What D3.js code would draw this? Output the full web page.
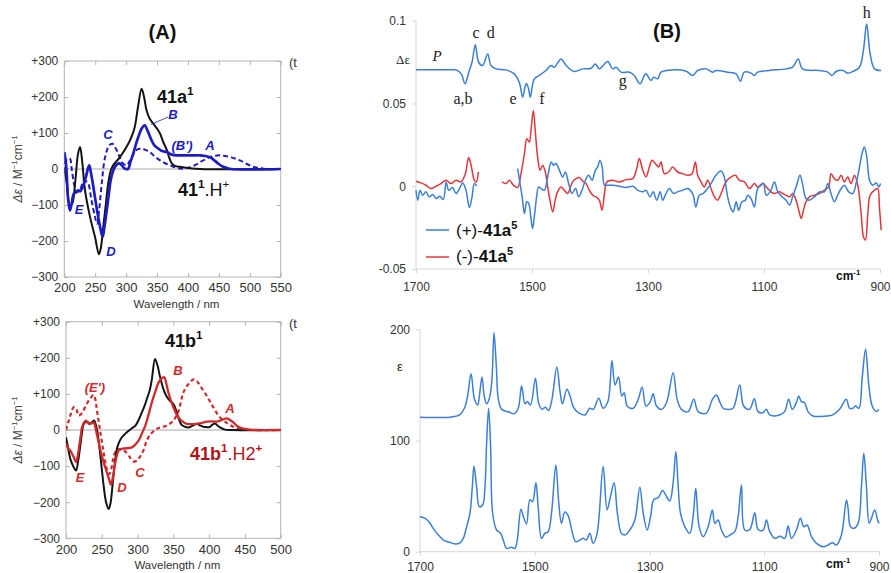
<!DOCTYPE html>
<html><head><meta charset="utf-8">
<script src="https://cdn.jsdelivr.net/npm/d3@7"></script>
<style>body{margin:0;background:#fff}svg{display:block}</style>
</head><body>
<script>
// ---------- DATA ----------
// Panel A (top): wavelength (nm), Δε
const aTopTicksX = [200,250,300,350,400,450,500,550];
const aBotTicksX = [200,250,300,350,400,450,500];
const aTicksY = [300,200,100,0,-100,-200,-300];
const aTickLabelsY = ["+300","+200","+100","0","\u2212100","\u2212200","\u2212300"];

const a1Black = [[200,5],[204,-40],[209,-101],[213,-95],[218,-30],[222,40],[225.5,61],[229,20],[233.5,-59],[241.6,-133],[249.7,-189],[256,-237],[259,-220],[263,-161],[267,-100],[271,-40],[275,-5],[279,10],[290,33],[303.5,70],[310,95],[314,117],[319,170],[325,223],[329,200],[333,163],[338,140],[344,126],[350,112],[355,98],[360,75],[366,52],[370,30],[374,15],[380,8],[387,6],[400,3],[420,0],[550,0]];
const a1Blue = [[200,47],[203,10],[206,-80],[209,-115],[212,-95],[215.5,-68],[219,-65],[222.6,-59],[226,-62],[229.7,-50],[235,-22],[238,0],[240.4,10],[243,-10],[247,-50],[253,-115],[259,-170],[262,-189],[265,-160],[268.6,-115],[272,-70],[275,-31],[279,-5],[282,6],[286,14],[290,15],[295.5,5],[299,0],[303.5,1],[307,20],[311.6,43],[316,70],[319.7,89],[325,112],[330,121],[335,105],[341,80],[346,65],[352,57],[358,50],[366,47],[374,40],[382,38],[398,38],[410,38],[419.5,38],[428,36],[435.6,33],[442,25],[449,15],[456,7],[462.6,3],[470,0],[550,0]];
const a1BlueDash = [[200,15],[205,28],[209,29],[212,0],[215.7,-41],[220,-64],[225,-59],[232,-31],[236,-35],[239,-41],[244,-87],[249.7,-133],[253,-152],[256,-120],[260.5,-41],[266,33],[272.8,66],[278,70],[284.7,52],[289,35],[293,19],[301,10],[305,20],[309,33],[316,52],[325,57],[331,53],[338.6,47],[346,35],[355,24],[363,16],[371,10],[380,4],[389,1],[398,3],[406,6],[413,12],[419.5,19],[427,26],[435.6,33],[444,37],[452,38],[460,36],[468,33],[476,29],[484,24],[492,17],[500,10],[508,5],[516,3],[525,0],[550,0]];

// Panel A (bottom)
const a2Black = [[200,-20],[203,-50],[206,-80],[210,-100],[214,-112],[217,-85],[220,-43],[222.5,-5],[224.7,17],[229,23],[233.8,17],[236.5,22],[239.5,26],[242,12],[244,-6],[248,-71],[252.6,-154],[256,-200],[259.6,-219],[262,-205],[265,-154],[268,-95],[271,-53],[274,-35],[278,-20],[283,-10],[287.6,-2],[292,5],[297,12],[302,30],[306,49],[310,68],[313,86],[317,110],[320,141],[324.4,197],[328,178],[331,151],[336,114],[340,95],[345.3,81],[350,72],[352.3,63],[356.9,35],[361.6,14],[366,9],[371,7],[377,12],[382.6,17],[387,13],[392,9],[396,8],[400.3,8],[404,14],[408.2,18],[412,12],[415.2,7],[422.2,1],[430,0],[500,0]];
const a2Red = [[200,-39],[203,-50],[206,-57],[210.7,-75],[214,-89],[216.5,-70],[218.6,-43],[221,-10],[223,12],[228,26],[232,17],[235,18],[238.7,21],[241,8],[243,-11],[250,-71],[257,-117],[260,-135],[263,-152],[266,-125],[269,-89],[273.6,-57],[278,-52],[283,-51],[292,-48],[297,-40],[301.5,-29],[306,-10],[310.8,12],[315,40],[320,77],[325,108],[329.5,132],[334,143],[337.4,146],[340,130],[343,104],[350,63],[355,42],[359.3,30],[364,22],[368.6,17],[375,16],[382.6,17],[390,20],[396.6,23],[405,24],[410.6,23],[418,28],[424.5,32],[429,28],[433.8,21],[438,13],[443,7],[450,3],[457,1],[465,0],[500,0]];
const a2RedDash = [[200,0],[203,20],[206,40],[210.7,63],[214,60],[217.7,40],[220,42],[223,49],[229,72],[234,88],[238.7,97],[241,85],[243,58],[248,-6],[252.6,-62],[257,-108],[260.5,-122],[263,-110],[265,-89],[268,-65],[271,-54],[278,-54],[283,-60],[287.6,-71],[294,-87],[299,-85],[304,-72],[308.5,-55],[312.7,-30],[318,-12],[326.7,3],[333,8],[340.7,12],[350,26],[357,52],[364,104],[369,122],[373.3,132],[378,140],[383,135],[387.2,123],[396.6,95],[405.8,63],[415.2,35],[424.5,20],[433.8,9],[443,3],[455,0],[500,0]];

// Panel B (top): wavenumber (cm-1), Δε
const bTicksX = [1700,1500,1300,1100,900];
const bTopTicksY = [0.1,0.05,0,-0.05];
const bTopTickLabelsY = ["0.1","0.05","0","-0.05"];
const bBotTicksY = [200,100,0];

const bCalc = [[1700,0.0703],[1640,0.0703],[1631,0.0703],[1622,0.0679],[1615.5,0.0619],[1609,0.0689],[1603.4,0.0749],[1597.7,0.0854],[1592,0.0749],[1585,0.0729],[1576.4,0.0799],[1570.7,0.0729],[1562,0.0709],[1545,0.0703],[1530.5,0.0679],[1522,0.0628],[1516,0.0538],[1512,0.0600],[1509.5,0.0620],[1506,0.0590],[1503,0.0538],[1496,0.0649],[1487.4,0.0669],[1476,0.0699],[1467.2,0.0729],[1461.5,0.0719],[1450,0.0769],[1441,0.0729],[1427,0.0693],[1412.6,0.0709],[1398,0.0713],[1390.8,0.0739],[1384,0.0709],[1369.5,0.0753],[1361,0.0709],[1355,0.0719],[1346.5,0.0689],[1332,0.0689],[1323.6,0.0669],[1313.8,0.0619],[1306.4,0.0669],[1303.4,0.0679],[1295,0.0639],[1290,0.0659],[1283.4,0.0649],[1277.6,0.0689],[1257.4,0.0703],[1234,0.0695],[1223,0.0669],[1214.4,0.0699],[1200,0.0709],[1188.5,0.0689],[1182.8,0.0699],[1162.7,0.0689],[1148,0.0679],[1140.8,0.0634],[1134,0.0689],[1122.3,0.0683],[1116.6,0.0669],[1111,0.0689],[1091,0.0699],[1062,0.0709],[1050.7,0.0719],[1041,0.0769],[1033.6,0.0709],[1004.6,0.0699],[990,0.0689],[982.8,0.0669],[975.7,0.0693],[964,0.0699],[955.7,0.0683],[947,0.0693],[935.4,0.0719],[928.7,0.0819],[923,0.0980],[917,0.0799],[909.5,0.0709],[898.3,0.0699]];

const bRed1 = [[1700,0.003],[1691.4,0.002],[1682.8,0.0006],[1674,-0.0014],[1665.5,0],[1657,0.0016],[1648,0.0036],[1639.7,0.0016],[1631,0.0036],[1622.4,0.0026],[1615,0.0076],[1609.2,0.0173],[1605,0.0127],[1599.4,0.0036],[1596,0.0026],[1592.5,0.0086]];
const bBlue1 = [[1700,-0.0024],[1697,-0.0084],[1693,-0.0024],[1688.5,-0.0054],[1683,-0.0034],[1677,-0.0064],[1671,-0.005],[1665.5,-0.0074],[1659,-0.006],[1653,-0.008],[1648,0.0026],[1643.7,-0.0024],[1637,-0.0008],[1631,-0.0044],[1625,-0.0014],[1619.5,0.002],[1613.8,-0.0024],[1608,-0.0129],[1603.4,-0.0064],[1599.4,0.0016],[1595.4,0]];
const bRed2 = [[1551.7,0.0026],[1544.8,0.0016],[1539,0.0036],[1532,0.0006],[1524.7,-0.0008],[1519,0.0076],[1513,0.0197],[1509,0.0287],[1504.6,0.0267],[1501.7,0.0337],[1497.7,0.0458],[1494,0.0317],[1490,0.0167],[1486,0.0096],[1481.6,0.0127],[1477,0.0086],[1473,-0.0004],[1469,-0.0084],[1464.3,-0.0155],[1460,-0.0084],[1456,-0.0034],[1450,-0.0004],[1444.3,-0.0024],[1438.5,-0.0044],[1434.5,-0.0014],[1430,0.0026],[1424,0.0046],[1418.4,0.0052],[1412.6,0.0032],[1407,0.0016],[1401,-0.0024],[1395.4,-0.0054],[1389.7,-0.0064],[1384,-0.0084],[1379.3,-0.0145],[1375,-0.0044],[1371,0.0026],[1361,0.0036],[1349.5,0.0026],[1338,0.004],[1326.4,0.0046],[1319.5,0.0106],[1315,0.0167],[1309,0.0096],[1303.4,0.0056],[1297.7,0.0116],[1293,0.0157],[1287.4,0.0137],[1281.6,0.0116],[1277.6,0.0147],[1271.8,0.0076],[1264.4,0.0086],[1257.5,0.0116],[1248.9,0.0086],[1240.2,0.0076],[1231.6,0.0066],[1224,0.0076],[1218.4,0.0147],[1214.4,0.0066],[1208.6,0.0026],[1203,-0.0004],[1197,0.0036],[1191.4,-0.0014],[1185.6,-0.0064],[1180,-0.0084],[1174,-0.0044],[1165.5,0.0026],[1156.8,0.0056],[1149.3,0.0066],[1142.4,0.0036],[1133.8,0.0026],[1125,-0.0014],[1116.6,0.0016],[1111,-0.0004],[1102,0.0016],[1093.6,-0.0014],[1087.8,-0.0034],[1082,-0.0044],[1073.4,-0.0034],[1067.7,-0.0044],[1062,-0.0054],[1056,-0.0064],[1050.6,-0.0044],[1044.8,-0.0084],[1040,-0.0145],[1036,-0.0195],[1032,-0.0145],[1027.6,-0.0094],[1021.8,-0.0064],[1013,-0.0054],[1004.6,-0.0044],[996,-0.0024],[988.5,-0.0004],[984.5,0.0076],[978.7,0.0046],[973,0.0036],[967,0.0066],[961.4,0.0026],[955.7,0.0056],[950,0.0016],[944,0.0066],[938.3,0.0006],[932.5,-0.0165],[928.5,-0.0305],[925,-0.0325],[921,-0.0165],[917,-0.0054],[909.5,-0.0024],[904,-0.0014],[901,-0.0125],[898,-0.0265]];
const bBlue2 = [[1524.7,0.0106],[1522,0.0046],[1517,-0.0064],[1513,-0.0165],[1509,-0.0094],[1505.7,-0.0104],[1501.7,-0.0195],[1499,-0.0255],[1495.4,-0.0165],[1492,-0.0064],[1488.5,-0.0004],[1484.5,-0.0014],[1478.7,-0.0024],[1473,0.0056],[1467,0.0147],[1463,0.0127],[1458.6,0.0137],[1452.8,0.0096],[1447,0.0056],[1442.5,0.0086],[1436.8,0.0016],[1431,-0.0044],[1425,-0.0014],[1419.5,-0.0064],[1413.8,-0.0024],[1408,0.0036],[1402.3,0.0066],[1396.5,0.0036],[1390.8,0.0096],[1386.8,0.0117],[1382.8,0.0157],[1379,0.0117],[1375,0.0006],[1369.5,0.0006],[1361,0.0006],[1349.5,0],[1338,-0.0008],[1326,0],[1318,-0.0024],[1309,-0.0034],[1303.4,-0.0024],[1296.5,-0.0064],[1291,-0.0034],[1285,-0.0084],[1279,-0.0034],[1274.7,-0.0084],[1269,-0.0044],[1263,-0.0014],[1256,-0.0044],[1249,-0.0034],[1240,-0.0024],[1231.6,-0.0014],[1223,-0.0044],[1217.5,-0.0125],[1211.6,-0.0054],[1205,-0.0044],[1197.4,-0.0014],[1191.4,0.0016],[1183,0.0066],[1174,0.0092],[1168.5,0.0056],[1162.7,-0.0064],[1157,-0.0135],[1153,-0.0155],[1148,-0.0094],[1143.7,-0.0145],[1138,-0.0094],[1132,-0.0084],[1128,-0.0054],[1122.3,-0.0074],[1116.6,-0.0125],[1111,-0.0014],[1105,0.0006],[1101,0.002],[1096.3,-0.0054],[1089.4,-0.0034],[1082,0.0026],[1076.3,-0.0034],[1068.8,-0.0064],[1062,-0.0084],[1056,-0.0114],[1050.6,-0.0064],[1043.7,0.0006],[1038,0.0066],[1033.6,0.0016],[1027.6,-0.0074],[1021.8,-0.0084],[1013,-0.0064],[1004.6,-0.0034],[996,-0.0034],[990,0.0016],[984.5,-0.0044],[978.7,-0.0094],[973,-0.0054],[967,-0.0014],[961.4,0.0006],[954,-0.0034],[947,-0.0044],[940,0.0036],[934.3,0.0137],[931,0.0197],[927,0.0237],[922.8,0.0177],[918,0.0036],[912.4,0.0006],[906.6,0.002],[902,-0.0004],[899,0.0016]];

// Panel B (bottom): ε
const bEpsCalc = [[1700,121],[1648,121],[1631,123],[1622.6,129],[1617,140],[1611,160],[1605,137],[1599.4,132],[1596.5,140],[1592,157],[1588,140],[1584,133],[1579.6,137],[1575,152],[1571,197],[1567,167],[1563.4,137],[1557.6,128],[1545,125.6],[1536,124],[1528.7,129],[1523,149],[1517,133],[1513,135],[1507.4,132],[1498.8,156],[1493,133],[1487,128],[1481.6,130],[1475.8,127],[1470,137],[1461.5,166],[1455.7,143],[1451.7,133],[1444,146],[1438.5,140],[1432.6,130],[1424,125],[1412.6,123],[1404,129],[1398,128],[1388.5,138],[1381,129],[1372.5,135],[1365.5,172],[1360,150],[1354,157],[1348.3,140],[1344,143],[1338.8,131],[1328.4,129],[1319.7,137],[1312.7,148],[1306.3,131],[1299.4,134],[1293.6,142],[1287.8,131],[1279,128],[1270.4,134],[1258.8,161],[1251.8,137],[1244.3,128],[1232.7,126],[1222.8,137],[1215.3,126],[1200.8,124.6],[1190.4,137],[1183.5,141],[1177.7,135],[1171.8,129],[1164.9,128],[1154.4,129],[1142.8,150],[1135.9,131],[1125.5,128],[1117.3,137.6],[1110.9,126],[1102.2,125],[1096.4,128],[1090.6,123],[1073.2,123],[1064.5,126],[1057.5,137],[1051.1,128],[1044.1,134],[1040,140],[1035.4,135],[1029.6,134],[1023.8,126],[1015.1,122],[991.9,122],[980.3,123],[968.7,128],[957.1,137],[951.3,129],[945.5,129],[940.8,131],[935,129],[929.2,157],[923.4,182],[917.6,149],[911.8,131],[904.8,126],[900.2,128]];
const bEpsExp = [[1700,31.5],[1691,30],[1683,26],[1677,21],[1668,15],[1659,10.5],[1652.4,9],[1646.6,8.2],[1639,7],[1630.3,8],[1624.5,12],[1618.7,22.5],[1612.9,34.6],[1608.8,58.6],[1605.9,77],[1601.3,58],[1596.6,40.5],[1590.8,42],[1586.8,58],[1583.9,97.6],[1580.4,129],[1576.9,94],[1573.4,34.6],[1566.5,19.5],[1559.5,16.5],[1554.9,10.5],[1549.1,3],[1540.4,4],[1534.6,3],[1530.5,10.5],[1524.2,38.2],[1520.1,32],[1514.3,25],[1508.5,46.6],[1503.8,45],[1498,62],[1494,40],[1488.2,12],[1482.4,16.5],[1476.6,18],[1470.8,34.6],[1463.2,78],[1458,43],[1453.4,25.5],[1447.6,35.7],[1441.8,32.5],[1436,20.5],[1428.5,9],[1421.5,10.5],[1415.7,12],[1410,10.5],[1404,16.5],[1398.3,7.5],[1391.3,16.5],[1380.8,76.6],[1373.9,37.6],[1368,49.6],[1361.7,62],[1356,34.6],[1349,16.5],[1342.9,15],[1334.2,19.5],[1325.5,28.5],[1316.8,58],[1311,34.6],[1304,19.5],[1298.2,31.5],[1292.4,47],[1284.9,48.5],[1277.3,55],[1270.4,49.6],[1264.6,45.7],[1258.8,62],[1254.1,90],[1250,59],[1246,34.6],[1238.5,22.5],[1229.8,16.5],[1224,31.5],[1219.3,57],[1213.5,22.5],[1206.5,13.5],[1197.8,22.5],[1190.4,37.6],[1186.2,25.5],[1180.4,28.5],[1174.6,19.5],[1167,13],[1160,15],[1151.3,18],[1145.5,31.5],[1139.7,60],[1133.9,19.5],[1125.2,20],[1116.5,35],[1110.7,20],[1102,19.5],[1096.2,28.5],[1090.4,18],[1081.6,12],[1072.9,14],[1064.2,12],[1058.4,23],[1052.6,12],[1043.9,19.5],[1036.9,30],[1031.1,22.5],[1025.3,24],[1017.7,13.5],[1009,7.5],[997.4,4.5],[988.7,6],[981.1,8],[974.2,6],[965.5,15],[956.8,46.6],[953.9,39],[949.8,22.5],[944,21],[936.4,25.5],[930.6,58.6],[926.5,88.6],[921.9,58.6],[917.2,25.6],[913.2,30],[907.4,37.5],[901.6,27],[899.8,25.5]];

// ---------- DRAW ----------
const W = 891, H = 573;
const SANS = '"Liberation Sans",Arial,sans-serif';
const SERIF = '"Liberation Serif","Times New Roman",serif';
const svg = d3.select("body").append("svg").attr("width", W).attr("height", H)
  .style("font-family", SANS);
svg.append("rect").attr("width", W).attr("height", H).attr("fill", "#fff");

const BLACK = "#141414", ABLUE = "#1c1cc4", ARED = "#d22a2c", DRED = "#b3141c";
const BBLUE = "#3b7fd8", BRED = "#e2363b";

function rich(parent, x, y, parts, o) {
  o = o || {};
  const t = parent.append("text").attr("x", x).attr("y", y)
    .attr("font-size", o.size || 12).attr("fill", o.fill || "#222")
    .attr("text-anchor", o.anchor || "start")
    .style("font-family", o.family || SANS);
  if (o.weight) t.attr("font-weight", o.weight);
  if (o.italic) t.attr("font-style", "italic");
  if (o.transform) t.attr("transform", o.transform);
  let raised = 0;
  const sh = o.shift || (o.size || 12) * 0.4;
  parts.forEach(p => {
    const s = t.append("tspan").text(p.t);
    let dy = 0;
    if (p.sup && !raised) { dy = -sh; raised = 1; }
    else if (!p.sup && raised) { dy = sh; raised = 0; }
    if (dy) s.attr("dy", dy);
    if (p.sup) s.attr("font-size", (o.size || 12) * 0.65);
    if (p.b) s.attr("font-weight", "bold");
    if (p.n) s.attr("font-weight", "normal");
    if (p.i) s.attr("font-style", "italic");
  });
  return t;
}

function styleAxis(g, col, size, fill) {
  g.select(".domain").remove();
  g.selectAll(".tick line").attr("stroke", col);
  g.selectAll(".tick text").attr("font-size", size).attr("fill", fill).style("font-family", SANS);
}

function panelA(cfg) {
  const x = d3.scaleLinear().domain(cfg.xd).range(cfg.xr);
  const y = d3.scaleLinear().domain([-300, 300]).range(cfg.yr);
  const g = svg.append("g");
  const clipId = "clip" + cfg.id;
  svg.append("clipPath").attr("id", clipId).append("rect")
    .attr("x", cfg.xr[0]).attr("y", cfg.yr[1]).attr("width", cfg.xr[1] - cfg.xr[0]).attr("height", cfg.yr[0] - cfg.yr[1]);
  g.append("line").attr("x1", cfg.xr[0]).attr("x2", cfg.xr[1]).attr("y1", y(0)).attr("y2", y(0))
    .attr("stroke", "#a8a8a8").attr("stroke-width", 1);
  const ax1 = g.append("g").attr("transform", `translate(${cfg.xr[0]},0)`)
    .call(d3.axisLeft(y).tickValues(aTicksY).tickFormat((d, i) => aTickLabelsY[i]).tickSize(-4).tickPadding(6));
  styleAxis(ax1, "#b0b0b0", 12, "#333");
  const ax2 = g.append("g").attr("transform", `translate(${cfg.xr[1]},0)`)
    .call(d3.axisRight(y).tickValues(aTicksY).tickFormat("").tickSize(-4));
  styleAxis(ax2, "#b0b0b0", 12, "#333");
  const ax3 = g.append("g").attr("transform", `translate(0,${cfg.yr[0]})`)
    .call(d3.axisBottom(x).tickValues(cfg.ticks).tickFormat(d3.format("d")).tickSize(-4).tickPadding(6));
  styleAxis(ax3, "#b0b0b0", 13, "#333");
  const ax4 = g.append("g").attr("transform", `translate(0,${cfg.yr[1]})`)
    .call(d3.axisTop(x).tickValues(cfg.ticks).tickFormat("").tickSize(-4));
  styleAxis(ax4, "#b0b0b0", 12, "#333");
  g.append("rect").attr("x", cfg.xr[0]).attr("y", cfg.yr[1]).attr("width", cfg.xr[1] - cfg.xr[0])
    .attr("height", cfg.yr[0] - cfg.yr[1]).attr("fill", "none").attr("stroke", "#b4b4b4").attr("stroke-width", 1);
  const line = d3.line().x(d => x(d[0])).y(d => y(d[1])).curve(d3.curveCatmullRom.alpha(0.5));
  const cg = g.append("g").attr("clip-path", `url(#${clipId})`);
  cfg.series.forEach(s => {
    cg.append("path").attr("d", line(s.data)).attr("fill", "none").attr("stroke", s.color)
      .attr("stroke-width", s.w).attr("stroke-dasharray", s.dash || null).attr("stroke-linejoin", "round");
  });
  const cy = (cfg.yr[0] + cfg.yr[1]) / 2;
  rich(g, 0, 0, [{t: "\u0394\u03b5", i: 1}, {t: " / M"}, {t: "\u22121", sup: 1}, {t: "cm"}, {t: "\u22121", sup: 1}],
    {size: 12, fill: "#444", anchor: "middle", transform: `translate(22,${cy}) rotate(-90)`});
  rich(g, (cfg.xr[0] + cfg.xr[1]) / 2 + 4, cfg.yr[0] + 31, [{t: "Wavelength / nm"}], {size: 11.5, fill: "#333", anchor: "middle"});
  rich(g, 289, cfg.yr[1] + 6, [{t: "(t"}], {size: 13, fill: "#333"});
  return {x, y, g};
}

panelA({id: "a1", xd: [200, 550], xr: [64.3, 280.7], yr: [277, 61], ticks: aTopTicksX,
  series: [
    {data: a1BlueDash, color: ABLUE, w: 2, dash: "5,3"},
    {data: a1Black, color: BLACK, w: 2},
    {data: a1Blue, color: ABLUE, w: 2.7}
  ]});
panelA({id: "a2", xd: [200, 500], xr: [66, 280.7], yr: [538.3, 321.7], ticks: aBotTicksX,
  series: [
    {data: a2RedDash, color: ARED, w: 2.2, dash: "4,3"},
    {data: a2Black, color: BLACK, w: 2},
    {data: a2Red, color: ARED, w: 2.3}
  ]});

rich(svg, 162.5, 39, [{t: "(A)"}], {size: 20, weight: "bold", fill: "#111", anchor: "middle"});
rich(svg, 157, 103, [{t: "41a"}, {t: "1", sup: 1}], {size: 18, weight: "bold", fill: "#111", shift: 8});
rich(svg, 178, 196, [{t: "41", b: 1}, {t: "1", sup: 1, b: 1}, {t: ".H"}, {t: "+", sup: 1}], {size: 18, fill: "#111", shift: 8});
const labA = (t, x, y, col) => rich(svg, x, y, [{t}], {size: 13, weight: "bold", italic: 1, fill: col, anchor: "middle"});
labA("B", 173, 119, ABLUE); labA("C", 108, 139, ABLUE); labA("(B')", 182, 150, ABLUE);
labA("A", 210, 150, ABLUE); labA("E", 79, 214, ABLUE); labA("D", 111, 256, ABLUE);
svg.append("line").attr("x1", 168).attr("y1", 117).attr("x2", 151).attr("y2", 124.5).attr("stroke", ABLUE).attr("stroke-width", 0.8);

rich(svg, 165, 347, [{t: "41b"}, {t: "1", sup: 1}], {size: 18, weight: "bold", fill: "#111", shift: 8});
svg.append("line").attr("x1", 181.7).attr("x2", 181.7).attr("y1", 336).attr("y2", 350).attr("stroke", "#666").attr("stroke-width", 0.8);
rich(svg, 190, 460, [{t: "41b", b: 1}, {t: "1", sup: 1, b: 1}, {t: ".H2"}, {t: "+", sup: 1, b: 1}], {size: 18, fill: DRED, shift: 8});
labA("B", 178, 375, ARED); labA("(E')", 95, 392, ARED); labA("A", 230, 413, ARED);
labA("C", 140, 477, ARED); labA("E", 80, 482, ARED); labA("D", 122, 492, ARED);

// ---- Panel B top ----
{
  const x = d3.scaleLinear().domain([1700, 900]).range([416, 880]);
  const y = d3.scaleLinear().domain([-0.05, 0.1]).range([269, 20.7]);
  const g = svg.append("g");
  g.append("line").attr("x1", 416).attr("x2", 416).attr("y1", y(0.1)).attr("y2", y(-0.05)).attr("stroke", "#d6d6d6");
  g.append("line").attr("x1", 416).attr("x2", 880).attr("y1", y(-0.05)).attr("y2", y(-0.05)).attr("stroke", "#d6d6d6");
  const ay = g.append("g").attr("transform", "translate(416,0)")
    .call(d3.axisLeft(y).tickValues(bTopTicksY).tickFormat((d, i) => bTopTickLabelsY[i]).tickSize(4).tickPadding(6));
  styleAxis(ay, "#d6d6d6", 12, "#333");
  const ax = g.append("g").attr("transform", `translate(0,${y(-0.05)})`)
    .call(d3.axisBottom(x).tickValues(bTicksX).tickFormat(d3.format("d")).tickSize(4).tickPadding(9));
  styleAxis(ax, "#d6d6d6", 12, "#333");
  const line = d3.line().x(d => x(d[0])).y(d => y(d[1])).curve(d3.curveCatmullRom.alpha(0.5));
  [[bCalc, BBLUE], [bRed1, BRED], [bBlue1, BBLUE], [bRed2, BRED], [bBlue2, BBLUE]].forEach(([d, c]) => {
    g.append("path").attr("d", line(d)).attr("fill", "none").attr("stroke", c).attr("stroke-width", 1.5).attr("stroke-linejoin", "round");
  });
  rich(svg, 667, 38, [{t: "(B)"}], {size: 20, weight: "bold", fill: "#111", anchor: "middle"});
  rich(svg, 403, 64, [{t: "\u0394\u03b5"}], {size: 13, fill: "#222", anchor: "middle", family: SERIF});
  rich(svg, 437, 61, [{t: "P"}], {size: 15, italic: 1, fill: "#222", anchor: "middle", family: SERIF});
  const lb = (t, px, py) => rich(svg, px, py, [{t}], {size: 16, fill: "#222", anchor: "middle", family: SERIF});
  lb("c", 476, 38); lb("d", 490.7, 38); lb("a,b", 463, 104); lb("e", 513, 104); lb("f", 542, 104);
  lb("g", 622.7, 86); lb("h", 866.7, 18);
  g.append("line").attr("x1", 426).attr("x2", 449).attr("y1", 230).attr("y2", 230).attr("stroke", BBLUE).attr("stroke-width", 1.5);
  g.append("line").attr("x1", 426).attr("x2", 449).attr("y1", 257).attr("y2", 257).attr("stroke", BRED).attr("stroke-width", 1.5);
  rich(svg, 456, 236, [{t: "(+)-"}, {t: "41a", b: 1}, {t: "5", sup: 1, b: 1}], {size: 17, fill: "#111", shift: 7});
  rich(svg, 456, 262, [{t: "(-)-"}, {t: "41a", b: 1}, {t: "5", sup: 1, b: 1}], {size: 17, fill: "#111", shift: 7});
  rich(svg, 836, 280, [{t: "cm"}, {t: "-1", sup: 1}], {size: 12, weight: "bold", fill: "#111", shift: 5});
}

// ---- Panel B bottom ----
{
  const x = d3.scaleLinear().domain([1700, 900]).range([420, 879]);
  const y = d3.scaleLinear().domain([0, 200]).range([551.7, 329.3]);
  const g = svg.append("g");
  g.append("line").attr("x1", 420).attr("x2", 420).attr("y1", y(200)).attr("y2", y(0)).attr("stroke", "#d6d6d6");
  g.append("line").attr("x1", 420).attr("x2", 879).attr("y1", y(0)).attr("y2", y(0)).attr("stroke", "#d6d6d6");
  const ay = g.append("g").attr("transform", "translate(420,0)")
    .call(d3.axisLeft(y).tickValues(bBotTicksY).tickFormat(d3.format("d")).tickSize(4).tickPadding(6));
  styleAxis(ay, "#d6d6d6", 12, "#333");
  const ax = g.append("g").attr("transform", `translate(0,${y(0)})`)
    .call(d3.axisBottom(x).tickValues(bTicksX).tickFormat(d3.format("d")).tickSize(4).tickPadding(7));
  styleAxis(ax, "#d6d6d6", 12, "#333");
  const line = d3.line().x(d => x(d[0])).y(d => y(d[1])).curve(d3.curveCatmullRom.alpha(0.5));
  [bEpsCalc, bEpsExp].forEach(d => {
    g.append("path").attr("d", line(d)).attr("fill", "none").attr("stroke", BBLUE).attr("stroke-width", 1.5).attr("stroke-linejoin", "round");
  });
  rich(svg, 400, 371, [{t: "\u03b5"}], {size: 13, fill: "#222", anchor: "middle"});
  rich(svg, 826, 568, [{t: "cm"}, {t: "-1", sup: 1}], {size: 12, weight: "bold", fill: "#111", shift: 5});
}
</script>
</body></html>
